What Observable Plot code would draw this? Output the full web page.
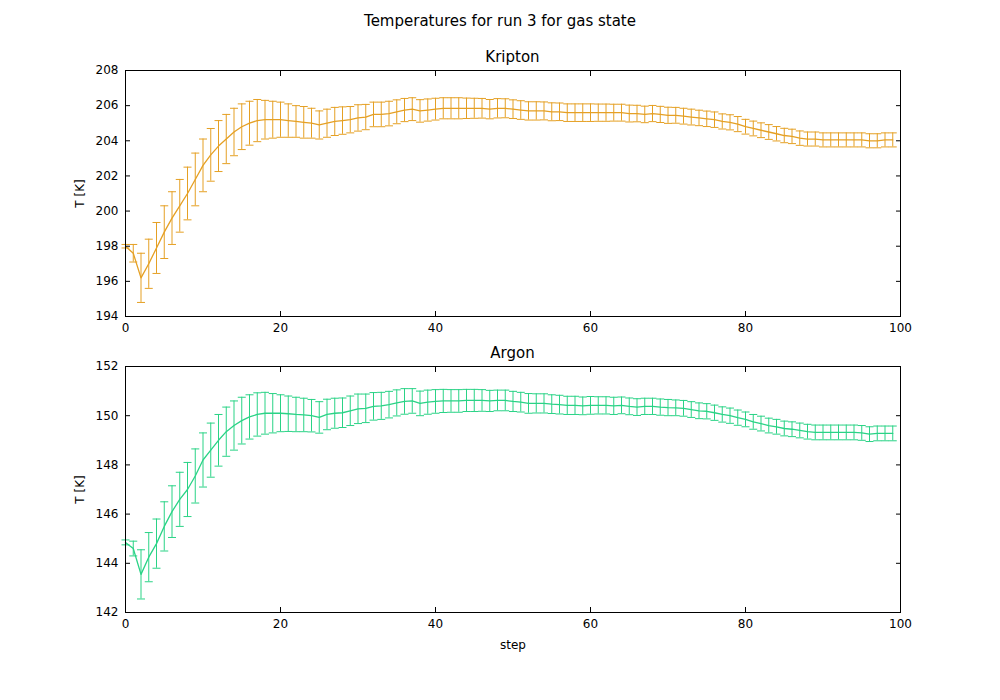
<!DOCTYPE html>
<html><head><meta charset="utf-8">
<script src="https://cdn.jsdelivr.net/npm/d3@7"></script>
<script src="https://cdn.jsdelivr.net/npm/@observablehq/plot@0.6"></script>
<style>
body{margin:0;background:#fff;font-family:"DejaVu Sans",sans-serif;}
#fig{position:relative;width:1000px;height:700px;}
.t{position:absolute;width:1000px;text-align:center;color:#000;}
.p{position:absolute;left:0;}
</style></head><body>
<div id="fig">
  <div class="t" style="top:12px;font-size:15px;">Temperatures for run 3 for gas state</div>
  <div class="t" style="left:0;width:1025px;top:48px;font-size:15px;">Kripton</div>
  <div class="t" style="left:0;width:1025px;top:344px;font-size:15px;">Argon</div>
  <div class="p" id="p1" style="top:40px;"></div>
  <div class="p" id="p2" style="top:336px;"></div>
</div>
<script>
var krMean = [198.0,197.6,196.2,197.0,197.9,198.8,199.6,200.3,201.0,201.8,
  202.6,203.2,203.7,204.1,204.5,204.8,205.0,205.15,205.2,205.2,
  205.2,205.15,205.1,205.05,205.0,204.9,205.0,205.1,205.15,205.2,
  205.3,205.35,205.5,205.5,205.55,205.65,205.75,205.8,205.7,205.75,
  205.8,205.85,205.85,205.85,205.85,205.85,205.85,205.8,205.85,205.85,
  205.8,205.75,205.7,205.7,205.7,205.65,205.65,205.6,205.6,205.6,
  205.6,205.6,205.6,205.6,205.6,205.55,205.55,205.5,205.55,205.5,
  205.45,205.45,205.4,205.35,205.3,205.25,205.2,205.1,205.05,204.95,
  204.8,204.7,204.6,204.5,204.4,204.3,204.25,204.15,204.1,204.1,
  204.05,204.05,204.05,204.05,204.05,204.05,204.0,204.0,204.05,204.05];
var krErr = [0.1,0.5,1.4,1.4,1.45,1.5,1.5,1.5,1.5,1.5,
  1.5,1.5,1.45,1.4,1.35,1.3,1.25,1.2,1.1,1.05,
  1.0,0.95,0.9,0.9,0.85,0.8,0.8,0.8,0.78,0.75,
  0.75,0.72,0.7,0.7,0.7,0.68,0.66,0.65,0.64,0.63,
  0.62,0.6,0.6,0.6,0.58,0.57,0.56,0.55,0.55,0.54,
  0.53,0.53,0.52,0.52,0.51,0.51,0.5,0.5,0.5,0.5,
  0.5,0.49,0.49,0.48,0.48,0.48,0.47,0.47,0.46,0.46,
  0.46,0.45,0.45,0.45,0.44,0.44,0.44,0.43,0.43,0.43,
  0.42,0.42,0.42,0.42,0.41,0.41,0.41,0.41,0.4,0.4,
  0.4,0.4,0.4,0.4,0.4,0.4,0.4,0.4,0.4,0.4];
var arMean = [144.85,144.6,143.55,144.25,144.8,145.5,146.1,146.6,147.0,147.55,
  148.2,148.6,149.0,149.35,149.6,149.8,149.95,150.05,150.1,150.1,
  150.1,150.08,150.05,150.03,150.0,149.93,150.05,150.1,150.12,150.2,
  150.28,150.3,150.38,150.4,150.45,150.52,150.58,150.6,150.5,150.55,
  150.58,150.6,150.6,150.6,150.62,150.62,150.62,150.6,150.62,150.62,
  150.58,150.55,150.5,150.5,150.5,150.47,150.45,150.42,150.42,150.4,
  150.42,150.42,150.42,150.4,150.42,150.38,150.35,150.38,150.38,150.35,
  150.33,150.32,150.3,150.25,150.2,150.18,150.12,150.05,150.0,149.92,
  149.85,149.75,149.68,149.6,149.55,149.48,149.45,149.4,149.35,149.32,
  149.32,149.32,149.32,149.32,149.32,149.3,149.25,149.28,149.28,149.28];
var arErr = [0.1,0.3,1.0,1.0,1.0,1.0,1.05,1.1,1.1,1.1,
  1.1,1.1,1.05,1.0,1.0,0.95,0.9,0.88,0.85,0.8,
  0.75,0.72,0.7,0.68,0.66,0.64,0.62,0.61,0.6,0.6,
  0.6,0.58,0.56,0.55,0.54,0.53,0.52,0.5,0.5,0.49,
  0.48,0.47,0.46,0.46,0.45,0.45,0.44,0.43,0.42,0.42,
  0.41,0.4,0.4,0.39,0.39,0.38,0.38,0.37,0.37,0.36,
  0.36,0.35,0.35,0.35,0.34,0.34,0.34,0.33,0.33,0.33,
  0.33,0.32,0.32,0.32,0.32,0.31,0.31,0.31,0.31,0.31,
  0.3,0.3,0.3,0.3,0.3,0.3,0.3,0.3,0.3,0.3,
  0.3,0.3,0.3,0.3,0.3,0.3,0.3,0.3,0.3,0.3];
var xTicks = [0, 20, 40, 60, 80, 100];
var krTicks = [194, 196, 198, 200, 202, 204, 206, 208];
var arTicks = [142, 144, 146, 148, 150, 152];

var cap = { draw: function (ctx, size) { ctx.moveTo(-4, 0); ctx.lineTo(4, 0); } };
var blank = function () { return ""; };

function panel(el, mean, err, color, domain, ticks, mb, xlabel) {
  var rows = mean.map(function (m, i) { return { step: i, m: m, lo: m - err[i], hi: m + err[i] }; });
  var p = Plot.plot({
    width: 1000, height: 30 + 246 + mb,
    marginLeft: 125, marginRight: 100, marginTop: 30, marginBottom: mb,
    style: { fontFamily: "DejaVu Sans", fontSize: "12px", color: "#000" },
    x: { domain: [0, 100] },
    y: { domain: domain },
    marks: [
      Plot.ruleX(rows, { x: "step", y1: "lo", y2: "hi", stroke: color, strokeWidth: 1 }),
      Plot.dot(rows, { x: "step", y: "lo", symbol: cap, stroke: color, strokeWidth: 1 }),
      Plot.dot(rows, { x: "step", y: "hi", symbol: cap, stroke: color, strokeWidth: 1 }),
      Plot.line(rows, { x: "step", y: "m", stroke: color, strokeWidth: 1.3 }),
      Plot.axisX({ ticks: xTicks, tickSize: -5, tickPadding: 12, label: xlabel, labelAnchor: "center", labelArrow: "none", labelOffset: 36 }),
      Plot.axisX({ anchor: "top", ticks: xTicks, tickSize: -5, tickFormat: blank, label: null }),
      Plot.axisY({ ticks: ticks, tickSize: -5, tickPadding: 12, label: "T [K]", labelAnchor: "center", labelArrow: "none", labelOffset: 50 }),
      Plot.axisY({ anchor: "right", ticks: ticks, tickSize: -5, tickFormat: blank, label: null }),
      Plot.frame({ stroke: "#000", strokeWidth: 1 })
    ]
  });
  document.getElementById(el).appendChild(p);
}
panel("p1", krMean, krErr, "#e5a024", [194, 208], krTicks, 24, null);
panel("p2", arMean, arErr, "#2ad386", [142, 152], arTicks, 50, "step");
</script>
</body></html>
